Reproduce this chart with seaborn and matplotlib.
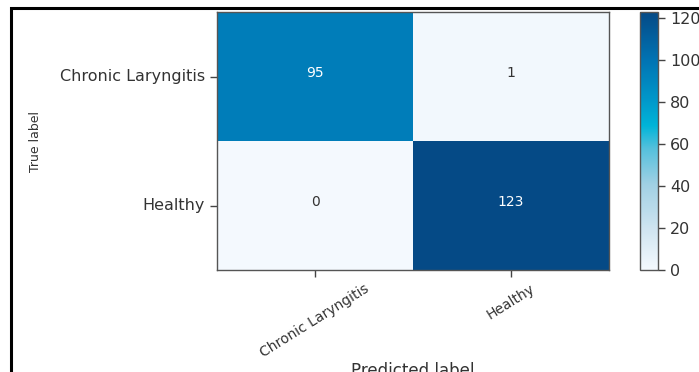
import numpy as np
import pandas as pd
import matplotlib
matplotlib.use("Agg")
import matplotlib.pyplot as plt
import matplotlib.patches as mpatches
from matplotlib.colors import LinearSegmentedColormap
import seaborn as sns

labels = ["Chronic Laryngitis", "Healthy"]
row_chronic = [95, 1]
row_healthy = [0, 123]

cm = pd.DataFrame([row_chronic, row_healthy], index=labels, columns=labels)

sns.set_theme(style="ticks")
plt.rcParams['font.family'] = ['DejaVu Sans']

cmap = LinearSegmentedColormap.from_list(
    "cb", [(0.0, "#f4f9fe"), (0.16, "#cfe4f0"), (0.33, "#a0d0e4"),
           (0.47, "#55c0dc"), (0.56, "#00b4d8"), (0.66, "#0098ca"),
           (0.81, "#0074b4"), (1.0, "#054a86")])

W, H = 699, 372
fig = plt.figure(figsize=(W / 100, H / 100), dpi=100)
ax = fig.add_axes([217 / W, 1 - 270 / H, (609 - 217) / W, (270 - 12) / H])
cax = fig.add_axes([640 / W, 1 - 270 / H, (658 - 640) / W, (270 - 12) / H])

sns.heatmap(cm, ax=ax, cbar_ax=cax, cmap=cmap, vmin=0, vmax=123,
            annot=False, linewidths=0)

vmax = 123
for i, row in enumerate(cm.values):
    for j, v in enumerate(row):
        ax.text(j + 0.5, i + 0.47, str(v), ha="center", va="center",
                fontsize=10, color="white" if v > vmax / 2 else "#333333")

for s in ax.spines.values():
    s.set_visible(True)
    s.set_color("#555555")
    s.set_linewidth(1.0)

ax.tick_params(axis="both", colors="#444444", labelcolor="#333333",
               length=5, width=1)
ax.set_yticklabels(labels, rotation=0, fontsize=11.5)
ax.set_xticklabels(labels, rotation=32, ha="center", fontsize=10)

ax.set_ylabel("True label", fontsize=9, color="#333333")
ax.yaxis.set_label_coords((42 - 217) / (609 - 217), 0.5)
ax.set_xlabel("Predicted label", fontsize=12, color="#333333")
ax.xaxis.set_label_coords(0.5, (270 - 362) / (270 - 12))

cbar = ax.collections[0].colorbar
cbar.set_ticks([0, 20, 40, 60, 80, 100, 120])
cbar.outline.set_visible(True)
cbar.outline.set_edgecolor("#555555")
cbar.outline.set_linewidth(1.0)
cax.tick_params(labelsize=11.5, colors="#444444", labelcolor="#333333",
                length=5, width=1)

frame = mpatches.Rectangle((11 / W, -0.2), 1.2, (1 - 8 / H) + 0.2,
                           transform=fig.transFigure, fill=False,
                           edgecolor="black", linewidth=2.2)
fig.patches.append(frame)

fig.savefig("out.png", dpi=100)
